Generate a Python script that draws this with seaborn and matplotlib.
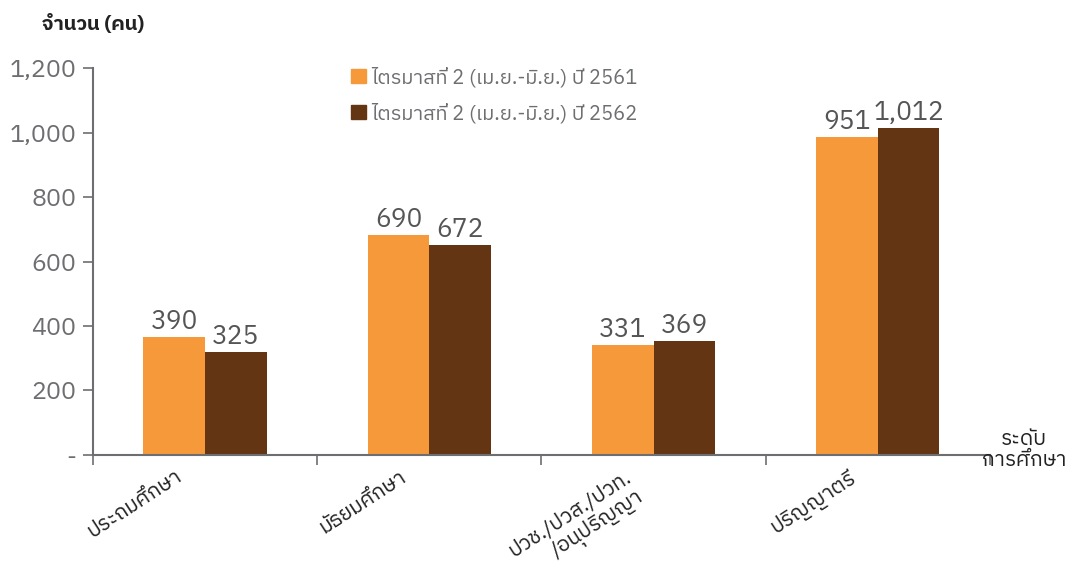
import numpy as np
import pandas as pd
import matplotlib
matplotlib.use("Agg")
import matplotlib.pyplot as plt
import seaborn as sns
from matplotlib import font_manager
from matplotlib.ft2font import FT2Font
from matplotlib.ticker import FuncFormatter
from matplotlib.patches import Patch

# ── data ────────────────────────────────────────────────
categories = ["ประถมศึกษา", "มัธยมศึกษา", "ปวช./ปวส./ปวท.\n/อนุปริญญา", "ปริญญาตรี"]
series = ["ไตรมาสที่ 2 (เม.ย.-มิ.ย.) ปี 2561", "ไตรมาสที่ 2 (เม.ย.-มิ.ย.) ปี 2562"]
heights_2561 = [366, 682, 341, 986]      # bar heights as drawn
heights_2562 = [319, 651, 353, 1014]
labels_2561 = ["390", "690", "331", "951"]   # printed data labels
labels_2562 = ["325", "672", "369", "1,012"]
yticks = [0, 200, 400, 600, 800, 1000, 1200]
colors = ["#F5993A", "#643512"]


def thai_font():
    found = []
    for f in font_manager.fontManager.ttflist:
        try:
            if 0x0E01 in FT2Font(f.fname).get_charmap():
                found.append(f.name)
        except Exception:
            pass
    return sorted(set(found), key=lambda n: (0 if "Thai" in n else 1, n))


thai = thai_font()
sns.set_style("white")
plt.rcParams["font.family"] = thai[:1] + ["DejaVu Sans"]

df = pd.DataFrame({
    "cat": categories * 2,
    "series": [series[0]] * 4 + [series[1]] * 4,
    "h": heights_2561 + heights_2562,
})

fig = plt.figure(figsize=(10.69, 5.68), dpi=100)
ax = fig.add_axes([0.087, 0.199, 0.839, 0.681])
sns.barplot(data=df, x="cat", y="h", hue="series", palette=colors,
            width=0.55, gap=0, saturation=1, linewidth=0, ax=ax, legend=False)

grey = "#6D6E71"
ax.set_xlim(-0.5, 3.5)
ax.set_ylim(0, 1200)
ax.set_yticks(yticks)
ax.yaxis.set_major_formatter(FuncFormatter(lambda v, p: "-" if v == 0 else f"{v:,.0f}"))
ax.tick_params(axis="y", labelsize=18, labelcolor=grey, color=grey, length=7, width=1.2,
               direction="out", left=True, pad=5)
ax.set_xticks(range(4))
ax.set_xticklabels([])
ax.tick_params(axis="x", length=0)
ax.set_xticks(np.arange(-0.5, 4, 1), minor=True)
ax.tick_params(axis="x", which="minor", length=7, color=grey, width=1.2, bottom=True)
for s in ["top", "right"]:
    ax.spines[s].set_visible(False)
for s in ["left", "bottom"]:
    ax.spines[s].set_color(grey)
    ax.spines[s].set_linewidth(1.5)
ax.set_xlabel("")
ax.set_ylabel("")

# rotated category labels, one line at a time
for i, cat in enumerate(categories):
    for j, line in enumerate(cat.split("\n")):
        ax.annotate(line, xy=(i, 0), xycoords=("data", "axes fraction"),
                    xytext=(-30 + 12 * j, -12 - 19 * j), textcoords="offset pixels",
                    rotation=33, rotation_mode="anchor", ha="right", va="top",
                    fontsize=15, color="#222222", annotation_clip=False)

# data labels
for cont, labs in zip(ax.containers, [labels_2561, labels_2562]):
    ax.bar_label(cont, labels=labs, padding=2, fontsize=19, color="#555555")

handles = [Patch(color=c) for c in colors]
ax.legend(handles, series, loc="upper left", bbox_to_anchor=(0.268, 1.05), frameon=False,
          fontsize=14.5, labelcolor=grey, handlelength=0.7, handleheight=0.7,
          handletextpad=0.25, labelspacing=0.75)

fig.text(0.039, 0.958, "จำนวน (คน)", fontsize=14.5, color="#222222", fontweight="bold", va="center")
fig.text(0.958, 0.208, "ระดับ\nการศึกษา", fontsize=15, color="#222222", ha="center", va="center",
         linespacing=1.15)

fig.savefig("out.png", dpi=100)
